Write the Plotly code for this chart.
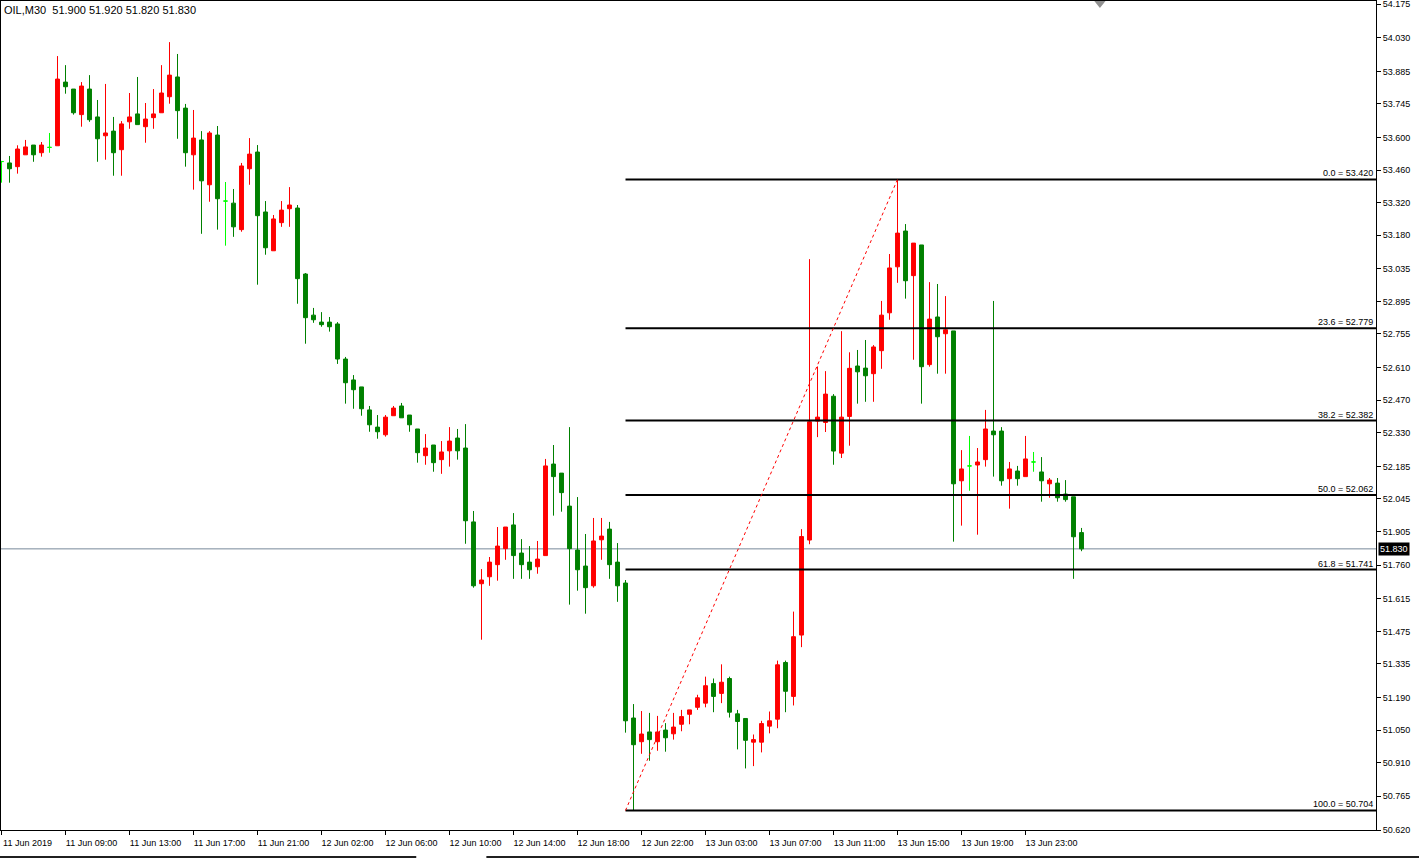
import plotly.graph_objects as go

# ---------------- data ----------------
open_ = [53.497, 53.491, 53.475, 53.526, 53.568, 53.535, 53.558, 53.565, 53.839, 53.809,
         53.699, 53.809, 53.689, 53.608, 53.628, 53.548, 53.668, 53.702, 53.647, 53.686,
         53.707, 53.776, 53.861, 53.727, 53.526, 53.590, 53.397, 53.611, 53.327, 53.318,
         53.204, 53.466, 53.538, 53.280, 53.113, 53.234, 53.294, 53.297, 53.013, 52.836,
         52.806, 52.806, 52.798, 52.647, 52.557, 52.527, 52.428, 52.354, 52.321, 52.403,
         52.445, 52.406, 52.346, 52.231, 52.277, 52.214, 52.252, 52.307, 52.264, 51.946,
         51.680, 51.710, 51.762, 51.831, 51.933, 51.812, 51.773, 51.753, 51.801, 52.195,
         52.156, 52.014, 51.825, 51.756, 51.671, 51.869, 51.915, 51.773, 51.683, 51.102,
         51.000, 51.042, 51.000, 51.050, 51.034, 51.075, 51.118, 51.148, 51.166, 51.250,
         51.208, 51.272, 51.120, 51.100, 50.998, 50.998, 51.067, 51.097, 51.341, 51.195,
         51.459, 51.868, 52.380, 52.374, 52.487, 52.242, 52.400, 52.617, 52.608, 52.584,
         52.683, 52.846, 53.044, 53.198, 53.006, 53.138, 52.623, 52.828, 52.756, 52.768,
         52.123, 52.187, 52.191, 52.214, 52.337, 52.337, 52.132, 52.165, 52.141, 52.204,
         52.161, 52.110, 52.113, 52.066, 52.054, 51.900]
high = [53.500, 53.521, 53.567, 53.590, 53.568, 53.581, 53.620, 53.951, 53.912, 53.809,
        53.839, 53.869, 53.762, 53.831, 53.689, 53.671, 53.792, 53.861, 53.749, 53.809,
        53.912, 54.011, 53.960, 53.745, 53.719, 53.628, 53.628, 53.650, 53.409, 53.379,
        53.491, 53.598, 53.568, 53.327, 53.267, 53.327, 53.387, 53.310, 53.017, 52.867,
        52.849, 52.828, 52.806, 52.656, 52.578, 52.527, 52.445, 52.406, 52.406, 52.445,
        52.458, 52.406, 52.346, 52.324, 52.277, 52.294, 52.354, 52.346, 52.367, 51.993,
        51.743, 51.795, 51.924, 51.924, 51.984, 51.872, 51.842, 51.864, 52.217, 52.277,
        52.156, 52.354, 52.053, 51.894, 51.963, 51.963, 51.946, 51.855, 51.696, 51.162,
        51.132, 51.124, 51.111, 51.080, 51.124, 51.137, 51.137, 51.202, 51.280, 51.272,
        51.333, 51.280, 51.137, 51.100, 51.031, 51.090, 51.130, 51.349, 51.349, 51.560,
        51.915, 53.077, 52.615, 52.595, 52.496, 52.767, 52.676, 52.686, 52.729, 52.707,
        52.897, 53.099, 53.420, 53.228, 53.146, 53.138, 52.978, 52.970, 52.918, 52.768,
        52.255, 52.316, 52.264, 52.428, 52.897, 52.354, 52.204, 52.187, 52.316, 52.247,
        52.225, 52.135, 52.135, 52.126, 52.054, 51.920]
low = [53.406, 53.406, 53.445, 53.526, 53.496, 53.518, 53.535, 53.565, 53.789, 53.699,
       53.647, 53.668, 53.496, 53.505, 53.436, 53.436, 53.638, 53.656, 53.578, 53.638,
       53.707, 53.746, 53.595, 53.475, 53.376, 53.186, 53.324, 53.204, 53.135, 53.173,
       53.195, 53.397, 52.967, 53.096, 53.113, 53.216, 53.216, 52.885, 52.713, 52.803,
       52.786, 52.765, 52.626, 52.455, 52.433, 52.403, 52.334, 52.304, 52.313, 52.403,
       52.394, 52.334, 52.201, 52.192, 52.162, 52.153, 52.184, 52.214, 51.852, 51.663,
       51.439, 51.671, 51.693, 51.783, 51.701, 51.701, 51.701, 51.723, 51.801, 51.973,
       51.990, 51.590, 51.650, 51.551, 51.663, 51.783, 51.701, 51.602, 51.039, 50.704,
       50.948, 50.918, 50.961, 50.957, 51.009, 51.045, 51.075, 51.137, 51.148, 51.127,
       51.166, 51.104, 50.967, 50.885, 50.895, 50.954, 51.036, 51.058, 51.127, 51.156,
       51.407, 51.850, 52.311, 52.333, 52.192, 52.221, 52.274, 52.455, 52.463, 52.463,
       52.605, 52.816, 52.975, 52.907, 52.644, 52.455, 52.614, 52.584, 52.584, 51.861,
       51.930, 52.080, 51.891, 52.184, 52.141, 52.102, 52.003, 52.102, 52.141, 52.162,
       52.033, 52.050, 52.033, 52.033, 51.701, 51.820]
close = [53.497, 53.466, 53.551, 53.560, 53.526, 53.568, 53.558, 53.852, 53.819, 53.707,
         53.822, 53.677, 53.595, 53.620, 53.535, 53.659, 53.689, 53.656, 53.680, 53.702,
         53.792, 53.869, 53.716, 53.535, 53.598, 53.414, 53.620, 53.337, 53.327, 53.216,
         53.478, 53.529, 53.264, 53.126, 53.250, 53.288, 53.310, 52.993, 52.825, 52.816,
         52.795, 52.786, 52.647, 52.545, 52.515, 52.433, 52.364, 52.334, 52.397, 52.436,
         52.394, 52.364, 52.244, 52.264, 52.201, 52.247, 52.294, 52.252, 51.951, 51.671,
         51.696, 51.773, 51.842, 51.924, 51.801, 51.762, 51.740, 51.786, 52.187, 52.141,
         52.072, 51.831, 51.740, 51.663, 51.864, 51.885, 51.762, 51.671, 51.090, 50.987,
         51.033, 51.009, 51.042, 51.017, 51.063, 51.108, 51.137, 51.189, 51.241, 51.195,
         51.256, 51.127, 51.087, 51.006, 51.009, 51.078, 51.090, 51.331, 51.217, 51.452,
         51.883, 52.377, 52.397, 52.496, 52.251, 52.397, 52.607, 52.592, 52.575, 52.699,
         52.836, 53.039, 53.189, 52.984, 53.146, 52.614, 52.819, 52.743, 52.773, 52.110,
         52.174, 52.187, 52.204, 52.346, 52.321, 52.123, 52.174, 52.132, 52.217, 52.204,
         52.123, 52.126, 52.050, 52.042, 51.882, 51.830]

x_tick_labels = ["11 Jun 2019", "11 Jun 09:00", "11 Jun 13:00", "11 Jun 17:00", "11 Jun 21:00",
                 "12 Jun 02:00", "12 Jun 06:00", "12 Jun 10:00", "12 Jun 14:00", "12 Jun 18:00",
                 "12 Jun 22:00", "13 Jun 03:00", "13 Jun 07:00", "13 Jun 11:00", "13 Jun 15:00",
                 "13 Jun 19:00", "13 Jun 23:00"]
x_tick_bars = [0, 8, 16, 24, 32, 40, 48, 56, 64, 72, 80, 88, 96, 104, 112, 120, 128]

y_tick_labels = ["54.175", "54.030", "53.885", "53.745", "53.600", "53.460", "53.320", "53.180",
                 "53.035", "52.895", "52.755", "52.610", "52.470", "52.330", "52.185", "52.045",
                 "51.905", "51.760", "51.615", "51.475", "51.335", "51.190", "51.050", "50.910",
                 "50.765", "50.620"]

symbol = "OIL,M30"
fib_high_bar = 112
fib_low_bar = 78
fib_ratios = ["0.0", "23.6", "38.2", "50.0", "61.8", "100.0"]
fib_levels = [53.420, 52.779, 52.382, 52.062, 51.741, 50.704]
last_price = 51.830

# ---------------- figure ----------------
n = len(close)
bars = list(range(n))
is_doji = [abs(o - c) < 1e-9 for o, c in zip(open_, close)]
norm_idx = [i for i in bars if not is_doji[i]]
doji_idx = [i for i in bars if is_doji[i]]

BULL = "#FF0000"
BEAR = "#008000"
DOJI = "#00FF00"

fig = go.Figure()
fig.add_trace(go.Candlestick(
    x=[bars[i] for i in norm_idx],
    open=[open_[i] for i in norm_idx], high=[high[i] for i in norm_idx],
    low=[low[i] for i in norm_idx], close=[close[i] for i in norm_idx],
    increasing=dict(line=dict(color=BULL, width=1), fillcolor=BULL),
    decreasing=dict(line=dict(color=BEAR, width=1), fillcolor=BEAR),
    whiskerwidth=0, hoverinfo="skip", showlegend=False))
fig.add_trace(go.Candlestick(
    x=[bars[i] for i in doji_idx],
    open=[open_[i] for i in doji_idx], high=[high[i] for i in doji_idx],
    low=[low[i] for i in doji_idx], close=[close[i] for i in doji_idx],
    increasing=dict(line=dict(color=DOJI, width=1), fillcolor=DOJI),
    decreasing=dict(line=dict(color=DOJI, width=1), fillcolor=DOJI),
    whiskerwidth=0, hoverinfo="skip", showlegend=False))

XMIN, XMAX = -0.0625, 171.81
YMIN, YMAX = 50.620, 54.188

shapes = []
annotations = []
# last price line
shapes.append(dict(type="line", xref="paper", x0=0, x1=1, yref="y", y0=last_price, y1=last_price,
                   line=dict(color="#778899", width=1), layer="below"))
# fibonacci levels
for r, lvl in zip(fib_ratios, fib_levels):
    shapes.append(dict(type="line", xref="x", x0=fib_low_bar, x1=XMAX, yref="y", y0=lvl, y1=lvl,
                       line=dict(color="black", width=2)))
    annotations.append(dict(xref="paper", x=1, xanchor="right", yref="y", y=lvl, yanchor="bottom",
                            text=f"{r} = {lvl:.3f}", showarrow=False, xshift=-1, yshift=-1,
                            font=dict(size=9, color="black", family="Liberation Sans")))
# trend line (dotted red)
shapes.append(dict(type="line", xref="x", yref="y", x0=fib_low_bar, y0=fib_levels[-1],
                   x1=fib_high_bar, y1=fib_levels[0],
                   line=dict(color="red", width=1, dash="dot")))
# shift marker triangle at top
shapes.append(dict(type="path", xref="x", yref="paper",
                   path="M 136.6 1.0 L 138.0 1.0 L 137.3 0.9916 Z",
                   fillcolor="#909090", line=dict(color="#909090", width=0)))
# bottom strip lines
shapes.append(dict(type="line", xref="paper", yref="paper", x0=-0.001, x1=0.302, y0=-0.0325, y1=-0.0325,
                   line=dict(color="#202020", width=2)))
shapes.append(dict(type="line", xref="paper", yref="paper", x0=0.353, x1=1.04, y0=-0.0325, y1=-0.0325,
                   line=dict(color="#202020", width=2)))

# header
annotations.append(dict(xref="paper", yref="paper", x=0, y=1, xanchor="left", yanchor="top",
                        xshift=1, yshift=-1, showarrow=False,
                        text=f"{symbol}  {open_[-1]:.3f} {high[-1]:.3f} {low[-1]:.3f} {close[-1]:.3f}",
                        font=dict(size=11, color="black", family="Liberation Sans")))
# last price label
annotations.append(dict(xref="paper", x=1, xanchor="left", yref="y", y=last_price, yanchor="middle",
                        xshift=2, showarrow=False, text=f"{last_price:.3f}", bgcolor="black",
                        borderpad=1, font=dict(size=9, color="white", family="Liberation Sans")))

fig.update_layout(
    width=1419, height=859,
    margin=dict(l=1, r=43, t=1, b=29, pad=0, autoexpand=False),
    paper_bgcolor="white", plot_bgcolor="white",
    showlegend=False,
    boxgap=0.3, boxgroupgap=0.3,
    shapes=shapes, annotations=annotations,
    font=dict(family="Liberation Sans", size=9, color="black"),
    xaxis=dict(range=[XMIN, XMAX], rangeslider=dict(visible=False), showgrid=False, zeroline=False,
               tickmode="array", tickvals=x_tick_bars, ticktext=x_tick_labels,
               ticks="outside", ticklen=4, tickcolor="black", ticklabelshift=26,
               ticklabeloverflow="allow", automargin=False,
               showline=True, linecolor="black", linewidth=1, mirror=True,
               tickfont=dict(size=9, color="black")),
    yaxis=dict(range=[YMIN, YMAX], side="right", showgrid=False, zeroline=False,
               tickmode="array", tickvals=[float(t) for t in y_tick_labels], ticktext=y_tick_labels,
               ticks="outside", ticklen=4, tickcolor="black", ticklabeloverflow="allow",
               automargin=False,
               showline=True, linecolor="black", linewidth=1, mirror=True,
               tickfont=dict(size=9, color="black")),
)

fig.write_html("out.html", config={"displayModeBar": False},
               post_script="document.body.style.margin='0';document.body.style.overflow='hidden';")
